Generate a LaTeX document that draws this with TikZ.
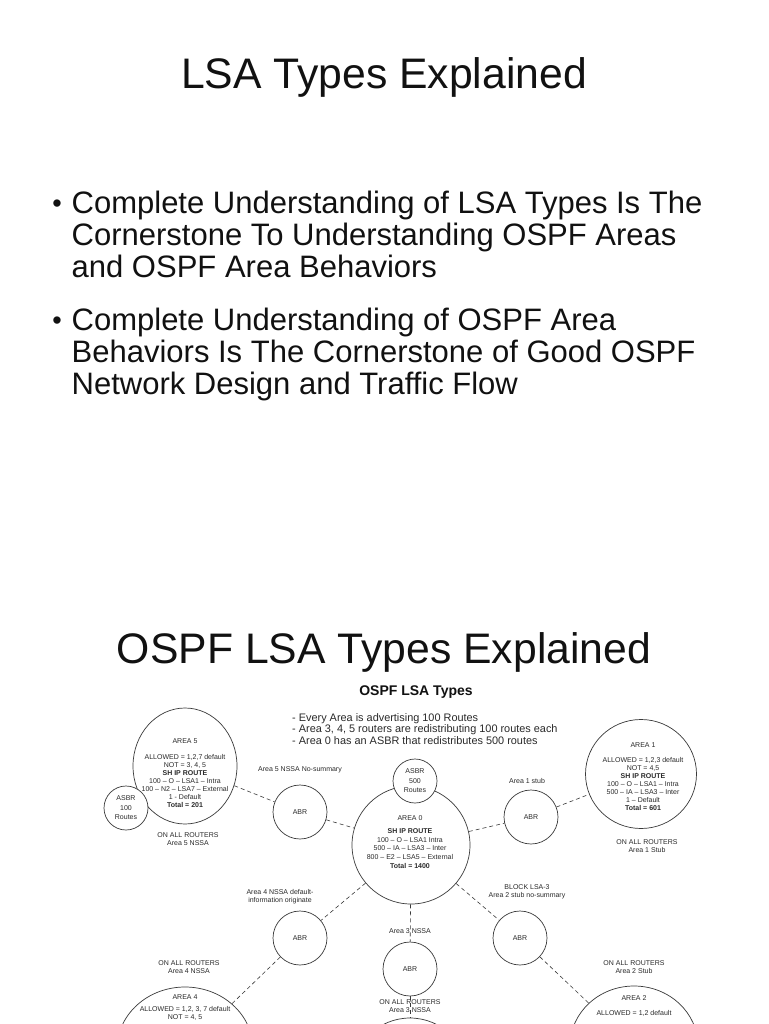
\documentclass[tikz,border=0pt]{standalone}
\usepackage{fontspec}
\setmainfont{Liberation Sans}
\usetikzlibrary{positioning,shapes.geometric}
\definecolor{cInk}{HTML}{111111}
\definecolor{cNet}{HTML}{3A3A3A}
\definecolor{cTxt}{HTML}{2A2A2A}
\tikzset{
  rtr/.style  ={draw=cNet,fill=white,circle,line width=0.7pt,inner sep=0pt,
                minimum size=54pt,font=\fontsize{7}{8}\selectfont,text=cTxt},
  asbr/.style ={rtr,minimum size=44pt,align=center,
                font=\fontsize{7}{9.5}\selectfont},
  area/.style ={draw=cNet,ellipse,line width=0.7pt,inner sep=0pt},
  lnk/.style  ={draw=cNet,line width=0.6pt,dash pattern=on 4pt off 3pt},
  info/.style ={align=center,inner sep=0pt,text=cTxt,
                font=\fontsize{7}{8}\selectfont},
  lbl/.style  ={align=center,inner sep=0pt,text=cTxt,
                font=\fontsize{7}{8}\selectfont},
  hdr/.style  ={inner sep=0pt,anchor=base,text=cInk,
                font=\fontsize{42.7}{50}\selectfont},
  itm/.style  ={inner sep=0pt,anchor=north west,align=left,text=cInk,
                font=\fontsize{31}{32}\selectfont},
}

\begin{document}
\begin{tikzpicture}[x=1pt,y=-1pt,
  bul/.style={inner sep=0pt,text=cInk,font=\fontsize{27}{28}\selectfont},
  ttl/.style={inner sep=0pt,text=cInk,font=\fontsize{14}{16}\selectfont\bfseries},
  dsc/.style={inner sep=0pt,anchor=north west,align=left,text=cTxt,
              font=\fontsize{10.9}{11.5}\selectfont},
]
\path[use as bounding box,fill=white] (0,0) rectangle (768,1024);
\clip (0,0) rectangle (768,1024);

% ===== first slide ======================================================
\node[hdr] (t1) at (384,89) {LSA Types Explained};
\node[bul] (u1) at (57,206) {\textbullet};
\node[itm] (b1) at (71.5,191) {Complete Understanding of LSA Types Is The\\
  Cornerstone To Understanding OSPF Areas\\ and OSPF Area Behaviors};
\node[bul] (u2) at (57,323) {\textbullet};
\node[itm] (b2) at (71.5,308) {Complete Understanding of OSPF Area\\
  Behaviors Is The Cornerstone of Good OSPF\\ Network Design and Traffic Flow};

% ===== second slide =====================================================
\node[hdr] (t2) at (384,663) {OSPF LSA Types Explained};
\node[ttl] (dt) at (416,692) {OSPF LSA Types};
\node[dsc] (dd) at (292,713) {- Every Area is advertising 100 Routes\\
  - Area 3, 4, 5 routers are redistributing 100 routes each\\
  - Area 0 has an ASBR that redistributes 500 routes};

% areas
\node[area,minimum width=104pt,minimum height=116pt] (a5) at (185,766) {};
\node[area,minimum width=111pt,minimum height=109pt] (a1) at (641,774) {};
\node[area,minimum size=118pt] (a0) at (411,845) {};
\node[area,minimum width=136pt,minimum height=124pt] (a4) at (185,1049) {};
\node[area,minimum width=128pt,minimum height=120pt] (a2) at (634,1046) {};
\node[area,minimum size=116pt] (a3) at (410,1076) {};

% routers
\node[rtr] (r5) at (300,812) {ABR};
\node[rtr] (r1) at (531,817) {ABR};
\node[rtr] (r4) at (300,938) {ABR};
\node[rtr] (r2) at (520,938) {ABR};
\node[rtr] (r3) at (410,969) {ABR};
\node[asbr] (s5) at (126,808) {ASBR\\100\\Routes};
\node[asbr] (s0) at (415,781) {ASBR\\500\\Routes};

% dashed links
\draw[lnk] (a5) -- (r5);
\draw[lnk] (r5) -- (a0);
\draw[lnk] (a0) -- (r1);
\draw[lnk] (r1) -- (a1);
\draw[lnk] (a0) -- (r4);
\draw[lnk] (a0) -- (r2);
\draw[lnk] (a0) -- (r3);
\draw[lnk] (r4) -- (a4);
\draw[lnk] (r2) -- (a2);
\draw[lnk] (r3) -- (a3);

% routing tables
\node[info] (i5) at (185,773) {AREA 5\\[8pt] ALLOWED = 1,2,7 default\\ NOT = 3, 4, 5\\
  \textbf{SH IP ROUTE}\\ 100 -- O -- LSA1 -- Intra\\ 100 -- N2 -- LSA7 -- External\\
  1 - Default\\ \textbf{Total = 201}};
\node[info] (i1) at (643,776.5) {AREA 1\\[7pt] ALLOWED = 1,2,3 default\\ NOT = 4,5\\
  \textbf{SH IP ROUTE}\\ 100 -- O -- LSA1 -- Intra\\ 500 -- IA -- LSA3 -- Inter\\
  1 -- Default\\ \textbf{Total = 601}};
\node[info,font=\fontsize{7}{8.7}\selectfont] (i0) at (410,842) {AREA 0\\[4.3pt]
  \textbf{SH IP ROUTE}\\ 100 -- O -- LSA1 Intra\\ 500 -- IA -- LSA3 -- Inter\\
  800 -- E2 -- LSA5 -- External\\ \textbf{Total = 1400}};
\node[info,anchor=north] (i4) at (185,994) {AREA 4\\[4pt]
  ALLOWED = 1,2, 3, 7 default\\ NOT = 4, 5};
\node[info,anchor=north] (i2) at (634,995) {AREA 2\\[7pt] ALLOWED = 1,2 default};

% area labels
\node[lbl] (l5) at (300,770) {Area 5 NSSA No-summary};
\node[lbl] (l1) at (527,781) {Area 1 stub};
\node[lbl] (l4) at (280,897) {Area 4 NSSA default-\\information originate};
\node[lbl] (l2) at (527,892) {BLOCK LSA-3\\Area 2 stub no-summary};
\node[lbl] (l3) at (410,931) {Area 3 NSSA};
\node[lbl] (o5) at (188,839) {ON ALL ROUTERS\\Area 5 NSSA};
\node[lbl] (o1) at (647,846) {ON ALL ROUTERS\\Area 1 Stub};
\node[lbl] (o4) at (189,967) {ON ALL ROUTERS\\Area 4 NSSA};
\node[lbl] (o2) at (634,967) {ON ALL ROUTERS\\Area 2 Stub};
\node[lbl] (o3) at (410,1006) {ON ALL ROUTERS\\Area 3 NSSA};
\end{tikzpicture}
\end{document}
